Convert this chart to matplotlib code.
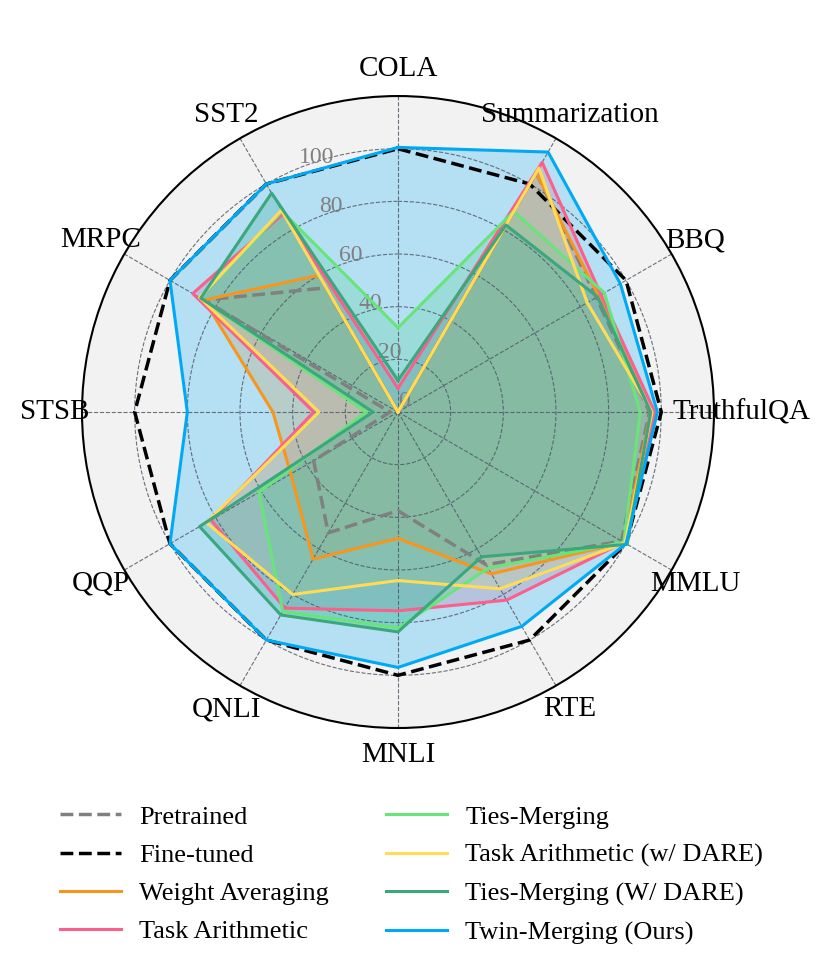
import matplotlib.pyplot as plt
import numpy as np

plt.rcParams['font.family'] = ['Liberation Serif', 'DejaVu Serif']

# tasks, clockwise from the top
tasks = ['COLA', 'Summarization', 'BBQ', 'TruthfulQA', 'MMLU', 'RTE',
         'MNLI', 'QNLI', 'QQP', 'STSB', 'MRPC', 'SST2']

# normalized scores (fine-tuned = 100)
pretrained = [0, 105, 87, 95.5, 98, 67, 37.5, 53, 37, 3, 85, 54.5]
finetuned = [100, 100, 100, 100, 100, 100, 100, 100, 100, 100, 100, 100]
weight_avg = [0, 105, 88, 96, 99, 71, 48, 64.5, 47, 47.5, 85, 60]
task_arith = [9, 109.5, 89, 97.5, 99, 82.5, 75.5, 86, 82, 32, 90, 87]
ties = [32, 88, 90.5, 92, 99, 68.5, 82, 87.5, 61, 12, 87, 88]
task_arith_dare = [0, 107, 83, 96.5, 99.5, 77.5, 64, 80, 84, 30, 87, 88.5]
ties_dare = [12, 82, 87.5, 96, 100.5, 63.5, 83.5, 89, 87, 9.5, 86.5, 96]
twin = [100.5, 114, 97.5, 98.5, 100, 94, 97, 100, 100, 80, 100, 100]

series = [
    ('Pretrained', pretrained, '#808080', '--', False),
    ('Fine-tuned', finetuned, 'black', '--', False),
    ('Weight Averaging', weight_avg, '#f7961e', '-', True),
    ('Task Arithmetic', task_arith, '#fb5f8c', '-', True),
    ('Ties-Merging', ties, '#69e47a', '-', True),
    ('Task Arithmetic (w/ DARE)', task_arith_dare, '#ffdc55', '-', True),
    ('Ties-Merging (W/ DARE)', ties_dare, '#3aa77d', '-', True),
    ('Twin-Merging (Ours)', twin, '#00a9f4', '-', True),
]

angles = np.linspace(0, 2 * np.pi, len(tasks), endpoint=False)
angles_c = np.append(angles, angles[0])

fig = plt.figure(figsize=(8.3, 9.69), dpi=100)
ax = fig.add_axes([0.0988, 0.2487, 0.7614, 0.6522], polar=True)
ax.set_theta_zero_location('N')
ax.set_theta_direction(-1)
ax.set_facecolor('#f2f2f2')

for name, vals, col, ls, fill in series:
    v = np.append(vals, vals[0])
    if fill:
        ax.fill(angles_c, v, color=col, alpha=0.25, linewidth=0)
    lw = 2.5 if ls == '--' else 2.2
    ax.plot(angles_c, v, color=col, linestyle=ls, linewidth=lw, label=name)

ax.set_ylim(0, 120)
ax.set_rgrids([0, 20, 40, 60, 80, 100], labels=['0', '20', '40', '60', '80', '100'],
              angle=338, fontsize=17, color='#7f7f7f')
ax.set_xticks(angles)
ax.set_xticklabels([])
ax.grid(True, linestyle='--', color='#4f5b68', linewidth=0.8, alpha=0.85)
ax.spines['polar'].set_linewidth(1.5)
ax.spines['polar'].set_color('black')

for a, t in zip(angles, tasks):
    ax.text(a, 130.3, t, ha='center', va='center', fontsize=21, clip_on=False)

fig.legend(loc='center', bbox_to_anchor=(0.496, 0.097), ncol=2, frameon=False,
           fontsize=19, handlelength=2.3, handletextpad=0.7, columnspacing=2.15,
           labelspacing=0.56)

fig.savefig('out.png', dpi=100)
